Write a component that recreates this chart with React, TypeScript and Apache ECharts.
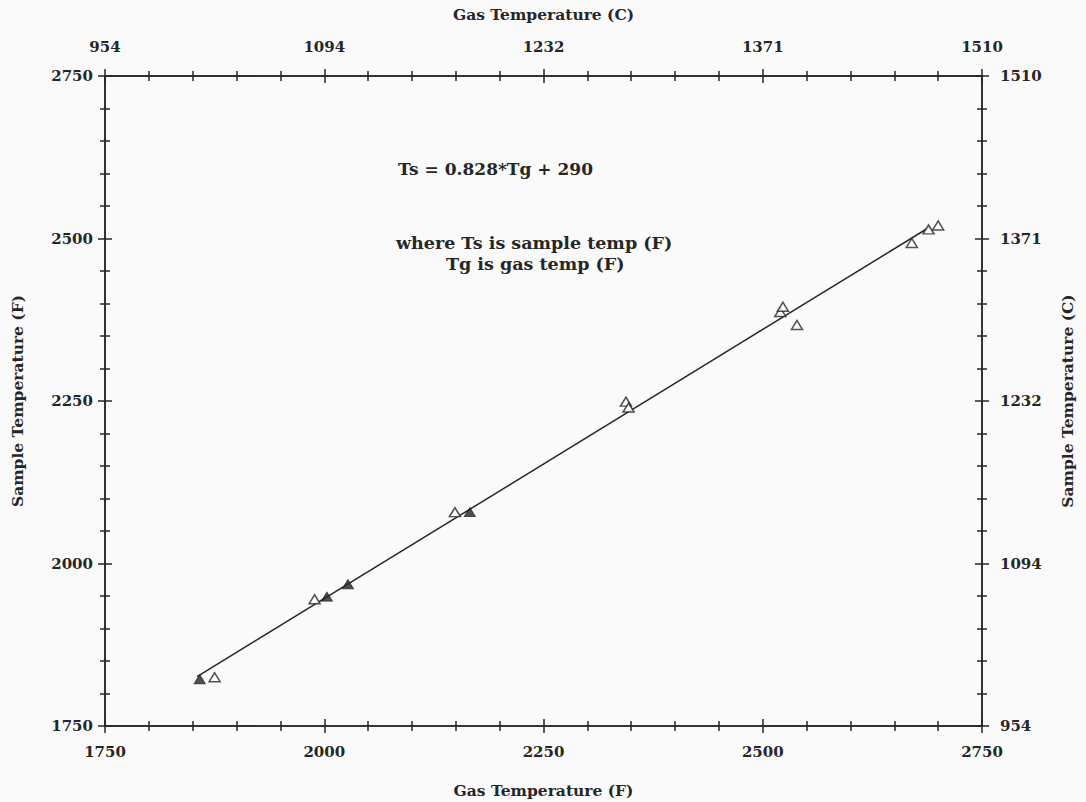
import React, { useEffect, useRef } from "react";
import * as echarts from "echarts";

const fTicks = [1750, 2000, 2250, 2500, 2750];
const cTickLabels = ["954", "1094", "1232", "1371", "1510"];

// open triangles [gas temp F, sample temp F]
const openPoints = [
  [1875, 1825],
  [1989, 1945],
  [2149, 2079],
  [2344, 2249],
  [2347, 2240],
  [2520, 2387],
  [2523, 2395],
  [2539, 2367],
  [2670, 2493],
  [2689, 2514],
  [2700, 2520],
];
// filled triangles
const filledPoints = [
  [1858, 1822],
  [2003, 1949],
  [2027, 1968],
  [2166, 2079],
];
const fitSlope = 0.828;
const fitIntercept = 290;
const fitRange = [1855, 2690];

const FONT = "DejaVu Serif";
const INK = "#262626";

function cLabel(v: number) {
  const i = fTicks.indexOf(Math.round(v));
  return i >= 0 ? cTickLabels[i] : "";
}

export default function App() {
  const ref = useRef<HTMLDivElement>(null);
  useEffect(() => {
    document.body.style.margin = "0";
    const chart = echarts.init(ref.current!, null, { renderer: "svg" });
    const lineStyle = { color: INK, width: 1.5 };
    const labelStyle = { color: INK, fontFamily: FONT, fontWeight: "bold" as const, fontSize: 15 };
    const nameStyle = { color: INK, fontFamily: FONT, fontWeight: "bold" as const, fontSize: 15.5 };
    const base = (extra: any) => ({
      type: "value",
      min: 1750,
      max: 2750,
      interval: 250,
      splitLine: { show: false },
      axisLine: { show: true, onZero: false, lineStyle },
      ...extra,
    });
    const outer = (pos: string, fmt: any, name: string, nameGap: number, extra: any = {}) =>
      base({
        position: pos,
        name,
        nameLocation: "middle",
        nameGap,
        nameTextStyle: nameStyle,
        axisLabel: { ...labelStyle, formatter: fmt, margin: 18 },
        axisTick: { show: true, inside: false, length: 7, lineStyle },
        minorTick: { show: true, splitNumber: 5, length: 5, lineStyle },
        ...extra,
      });
    const inner = (pos: string) =>
      base({
        position: pos,
        axisLabel: { show: false },
        axisTick: { show: true, inside: true, length: 7, lineStyle },
        minorTick: { show: true, splitNumber: 5, length: 5, lineStyle },
      });
    const fFmt = (v: number) => String(v);
    const line = fitRange.map((x) => [x, fitSlope * x + fitIntercept]);
    chart.setOption({
      animation: false,
      backgroundColor: "#fafafa",
      grid: { left: 105, right: 104, top: 76, bottom: 76, containLabel: false, outerBoundsMode: "none" },
      xAxis: [
        outer("bottom", fFmt, "Gas Temperature (F)", 56),
        inner("bottom"),
        outer("top", cLabel, "Gas Temperature (C)", 54, { axisLabel: { ...labelStyle, formatter: cLabel, margin: 22 } }),
        inner("top"),
      ],
      yAxis: [
        outer("left", fFmt, "Sample Temperature (F)", 80, { axisLabel: { ...labelStyle, formatter: fFmt, margin: 12 } }),
        inner("left"),
        outer("right", cLabel, "Sample Temperature (C)", 77, {
          nameRotate: 90,
          axisLabel: { ...labelStyle, formatter: cLabel, margin: 18 },
        }),
        inner("right"),
      ],
      graphic: [
        { type: "text", left: 398, top: 160, style: { text: "Ts = 0.828*Tg + 290", font: `bold 17px "${FONT}"`, fill: INK } },
        { type: "text", left: 396, top: 234, style: { text: "where Ts is sample temp (F)", font: `bold 17.5px "${FONT}"`, fill: INK } },
        { type: "text", left: 446, top: 255, style: { text: "Tg is gas temp (F)", font: `bold 17.5px "${FONT}"`, fill: INK } },
      ],
      series: [
        {
          type: "line",
          data: line,
          xAxisIndex: 0,
          yAxisIndex: 0,
          symbol: "none",
          lineStyle: { color: INK, width: 1.5 },
          z: 2,
        },
        {
          type: "scatter",
          data: openPoints,
          xAxisIndex: 0,
          yAxisIndex: 0,
          symbol: "triangle",
          symbolSize: [11, 9],
          itemStyle: { color: "#ffffff", borderColor: INK, borderWidth: 1.5 },
          z: 3,
        },
        {
          type: "scatter",
          data: filledPoints,
          xAxisIndex: 0,
          yAxisIndex: 0,
          symbol: "triangle",
          symbolSize: [11, 9],
          itemStyle: { color: INK, borderColor: INK, borderWidth: 1 },
          z: 3,
        },
      ],
    });
    return () => chart.dispose();
  }, []);
  return <div ref={ref} style={{ width: 1086, height: 802 }} />;
}
